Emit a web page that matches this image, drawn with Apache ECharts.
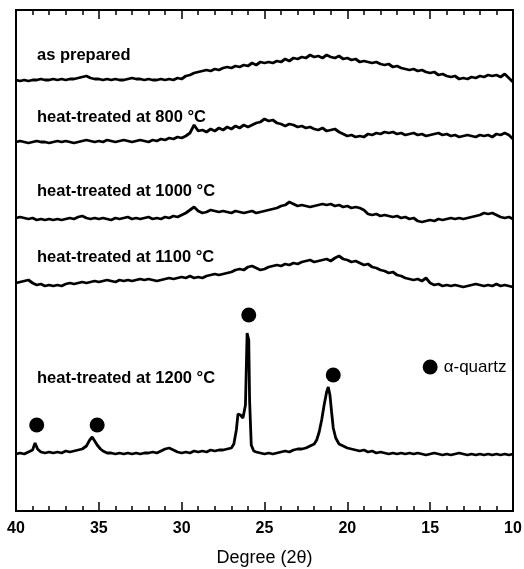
<!DOCTYPE html>
<html>
<head>
<meta charset="utf-8">
<script src="https://cdn.jsdelivr.net/npm/echarts@6/dist/echarts.min.js"></script>
<style>
html,body{margin:0;padding:0;background:#fff;}
#chart{width:524px;height:569px;}
</style>
</head>
<body>
<div id="chart"></div>
<script>
// 2θ sampling grid for the four amorphous traces: 40 → 10 in 0.25° steps
var twoTheta = [];
for (var i = 0; i <= 120; i++) { twoTheta.push(40 - i * 0.25); }

// intensities (arbitrary units, already vertically offset as in the figure)
var asPrepared = [
  431,430,431,430,431,431,432,431,431,432,
  431,432,431,432,432,433,434,435,433,432,
  432,431,432,431,432,431,431,432,433,432,
  432,431,432,431,431,432,431,432,431,433,
  432,435,436,438,439,440,441,440,442,441,
  443,444,443,445,444,446,445,448,446,449,
  448,449,448,450,449,452,450,453,452,454,
  453,456,454,455,453,456,454,453,455,452,
  453,451,452,449,450,449,448,449,447,446,
  447,444,445,443,442,441,442,440,441,439,
  438,439,436,437,435,434,435,432,433,432,
  434,433,435,434,436,435,436,434,437,433,
  429
];
var heat800 = [
  369,370,369,368,369,370,369,369,368,369,
  370,369,370,369,368,369,370,371,370,369,
  370,369,371,370,369,370,371,370,369,370,
  371,370,369,371,370,372,371,373,372,374,
  373,375,378,386,380,381,379,382,380,383,
  381,384,382,385,383,386,384,386,388,389,
  392,390,391,388,387,385,387,386,384,385,
  383,384,382,381,383,380,381,382,379,377,
  375,376,374,375,374,377,376,378,377,379,
  378,379,377,378,376,377,378,376,377,375,
  376,377,378,376,377,375,376,374,375,376,
  375,374,376,375,376,374,377,376,378,376,
  372
];
var heat1000 = [
  293,294,293,292,293,291,292,291,292,291,
  292,291,292,293,292,294,295,293,292,293,
  292,293,292,291,293,292,293,294,292,293,
  292,293,294,292,293,292,294,293,295,294,
  296,298,301,304,300,298,299,301,300,299,
  300,299,298,300,299,298,299,300,298,299,
  300,301,302,303,305,306,309,307,305,306,
  305,304,305,306,307,306,307,305,306,304,
  305,303,304,303,301,297,296,297,295,296,
  295,294,295,293,294,292,293,290,289,290,
  291,290,292,291,292,293,292,293,292,293,
  294,295,296,298,297,298,296,294,293,294,
  292
];
var heat1100 = [
  228,229,230,231,228,226,227,225,226,225,
  226,225,227,228,227,228,229,228,229,230,
  229,230,231,230,229,231,230,231,230,231,
  232,231,232,231,230,231,232,233,232,233,
  234,233,235,233,234,233,235,236,237,236,
  237,238,239,241,242,241,244,245,243,241,
  242,244,245,246,245,247,246,248,247,249,
  250,251,249,250,251,252,250,253,255,252,
  251,249,250,248,246,247,244,243,241,240,
  238,239,236,235,233,232,231,232,230,233,
  228,226,227,225,226,225,226,225,224,225,
  226,227,226,225,226,225,227,225,226,225,
  224
];

// crystalline trace (1200 °C): its own 2θ positions, denser around the peaks
var theta1200 = [
  40,39.75,39.5,39.25,39,38.85,38.7,38.5,38.25,38,37.75,37.5,37.25,37,36.75,36.5,36.25,36,
  35.75,35.55,35.4,35.25,35.1,34.9,34.75,34.5,34.25,34,33.75,33.5,33.25,33,32.75,32.5,32.25,32,
  31.75,31.5,31.25,31,30.75,30.5,30.25,30,29.75,29.5,29.25,29,28.75,28.5,28.25,28,27.75,27.5,
  27.25,27,26.85,26.7,26.6,26.45,26.3,26.15,26.05,25.95,25.9,25.8,25.65,25.5,25.25,25,24.75,24.5,
  24.25,24,23.75,23.5,23.25,23,22.75,22.5,22.25,22,21.85,21.7,21.55,21.4,21.25,21.15,21.05,20.95,
  20.85,20.7,20.5,20.25,20,19.75,19.5,19.25,19,18.75,18.5,18.25,18,17.75,17.5,17.25,17,16.75,
  16.5,16.25,16,15.75,15.5,15.25,15,14.75,14.5,14.25,14,13.75,13.5,13.25,13,12.75,12.5,12.25,
  12,11.75,11.5,11.25,11,10.75,10.5,10.25,10
];
var heat1200 = [
  57,58,57,59,61,68,62,59,58,59,58,59,58,60,59,60,61,62,
  65,71,74,70,66,62,60,58,58,57,58,57,58,57,58,57,58,58,
  59,58,60,62,63,61,59,58,59,58,60,59,60,59,61,60,61,61,
  62,63,67,81,97,96,93,106,178,171,111,66,60,59,58,57,58,57,
  58,59,60,59,61,62,62,63,65,67,71,79,91,106,119,124,116,99,
  83,73,67,65,63,62,61,60,61,59,60,58,59,58,57,58,57,58,
  57,58,57,58,57,56,57,58,57,56,57,56,57,58,57,56,57,56,
  57,56,57,56,57,56,57,56,57
];

// α-quartz reflections marked with dots
var quartzTheta = [38.75, 35.1, 25.95, 20.85];
var quartzMark  = [86, 86, 196, 136];
var legendTheta = [15.0];
var legendMark  = [144];

var traceNames = ['as prepared', 'heat-treated at 800 °C', 'heat-treated at 1000 °C',
                  'heat-treated at 1100 °C', 'heat-treated at 1200 °C'];

function pair(xs, ys) { return xs.map(function (x, k) { return [x, ys[k]]; }); }

var chart = echarts.init(document.getElementById('chart'));
var FONT = '"Liberation Sans", Arial, sans-serif';
var lineSeries = function (name, data) {
  return { name: name, type: 'line', data: data, showSymbol: false, symbol: 'none',
           lineStyle: { color: '#000', width: 2.8 }, silent: true, animation: false, z: 3 };
};
var tickCfg = function (pos) {
  return {
    type: 'value', min: 10, max: 40, interval: 5, inverse: true, position: pos,
    axisLine: { show: true, onZero: false, lineStyle: { color: '#000', width: 2 } },
    axisTick: { show: true, inside: true, length: 9, lineStyle: { color: '#000', width: 1.5 } },
    minorTick: { show: true, splitNumber: 5, length: 5, lineStyle: { color: '#000', width: 1.5 } },
    splitLine: { show: false }, minorSplitLine: { show: false }
  };
};
var xBottom = tickCfg('bottom');
xBottom.axisLabel = { show: true, color: '#000', fontFamily: FONT, fontWeight: 'bold', fontSize: 16, margin: 10 };
xBottom.name = 'Degree (2θ)';
xBottom.nameLocation = 'middle';
xBottom.nameGap = 38;
xBottom.nameTextStyle = { color: '#000', fontFamily: FONT, fontSize: 18 };
var xTop = tickCfg('top');
xTop.axisLabel = { show: false };

var labelYs = [
  { t: traceNames[0], y: 55 }, { t: traceNames[1], y: 117 }, { t: traceNames[2], y: 191 },
  { t: traceNames[3], y: 257 }, { t: traceNames[4], y: 378 }
];

chart.setOption({
  backgroundColor: '#fff',
  animation: false,
  grid: { left: 16, right: 11, top: 10, bottom: 58, containLabel: false, outerBoundsMode: 'none',
          show: true, borderColor: '#000', borderWidth: 2, backgroundColor: 'transparent' },
  xAxis: [xBottom, xTop],
  yAxis: [
    { type: 'value', min: 0, max: 501, position: 'left', axisLine: { show: true, lineStyle: { color: '#000', width: 2 } },
      axisTick: { show: false }, axisLabel: { show: false }, splitLine: { show: false } },
    { type: 'value', min: 0, max: 501, position: 'right', axisLine: { show: true, lineStyle: { color: '#000', width: 2 } },
      axisTick: { show: false }, axisLabel: { show: false }, splitLine: { show: false } }
  ],
  series: [
    lineSeries(traceNames[0], pair(twoTheta, asPrepared)),
    lineSeries(traceNames[1], pair(twoTheta, heat800)),
    lineSeries(traceNames[2], pair(twoTheta, heat1000)),
    lineSeries(traceNames[3], pair(twoTheta, heat1100)),
    lineSeries(traceNames[4], pair(theta1200, heat1200)),
    { name: 'α-quartz peaks', type: 'scatter', data: pair(quartzTheta, quartzMark), symbol: 'circle', symbolSize: 15,
      itemStyle: { color: '#000', opacity: 1 }, silent: true, z: 4 },
    { name: 'α-quartz', type: 'scatter', data: pair(legendTheta, legendMark), symbol: 'circle', symbolSize: 15,
      itemStyle: { color: '#000', opacity: 1 }, silent: true, z: 4,
      label: { show: true, position: 'right', distance: 6, formatter: 'α-quartz', color: '#000', opacity: 1, fontFamily: FONT, fontSize: 17 } }
  ],
  graphic: labelYs.map(function (o) {
    return { type: 'text', x: 37, y: o.y, silent: true,
             style: { text: o.t, fill: '#000', font: 'bold 16.5px ' + FONT, verticalAlign: 'middle', textVerticalAlign: 'middle' } };
  })
});
</script>
</body>
</html>
